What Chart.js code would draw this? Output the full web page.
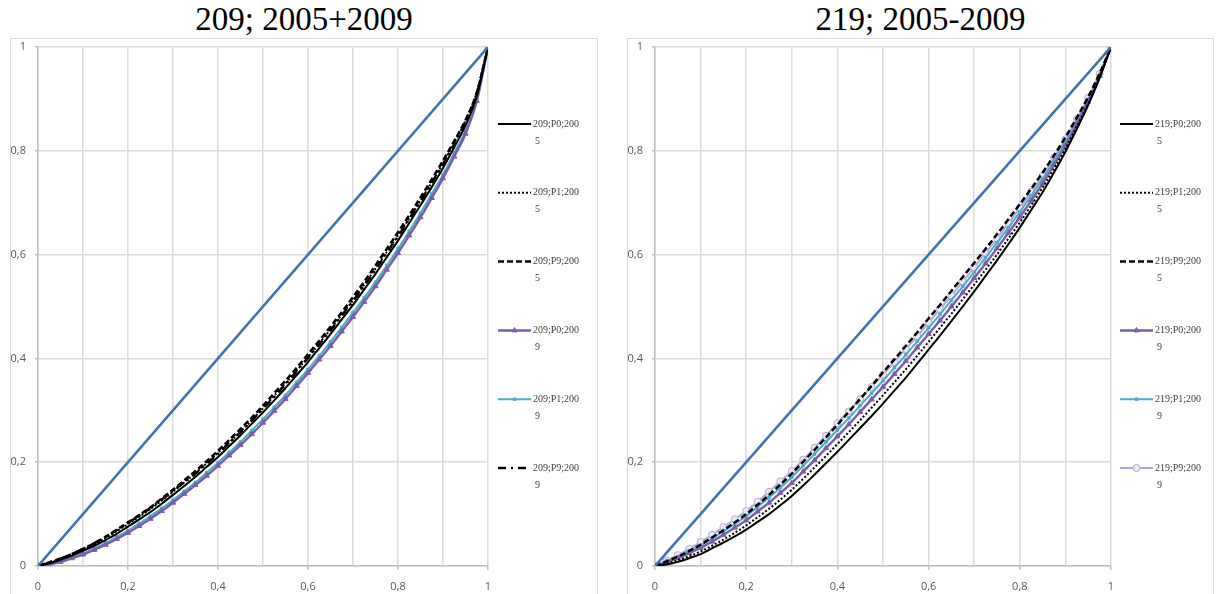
<!DOCTYPE html>
<html>
<head>
<meta charset="utf-8">
<script src="https://cdn.jsdelivr.net/npm/chart.js@4/dist/chart.umd.min.js"></script>
<style>
  body { margin: 0; background: #fff; width: 1216px; height: 594px; overflow: hidden; position: relative; }
  .title { position: absolute; top: 0; height: 38px; line-height: 38px; text-align: center;
           font-family: 'Liberation Serif', serif; font-size: 33px; color: #000; }
  .panel { position: absolute; top: 38px; height: 556px; border: 1px solid #d9d9d9; }
</style>
</head>
<body>
<div class="title" style="left:10px;width:588px;">209; 2005+2009</div>
<div class="title" style="left:627px;width:587px;">219; 2005-2009</div>
<div class="panel" style="left:10px;width:586px;"><canvas id="chart209"></canvas></div>
<div class="panel" style="left:627px;width:585px;"><canvas id="chart219"></canvas></div>
<script>
// cumulative population share (x)
const shares = [0, 0.025, 0.05, 0.075, 0.1, 0.125, 0.15, 0.175, 0.2, 0.225, 0.25, 0.275, 0.3, 0.325, 0.35, 0.375,
    0.4, 0.425, 0.45, 0.475, 0.5, 0.525, 0.55, 0.575, 0.6, 0.625, 0.65, 0.675, 0.7, 0.725, 0.75, 0.775,
    0.8, 0.825, 0.85, 0.875, 0.9, 0.925, 0.95, 0.975, 1];
const equalityX = [0, 1];
const equalityY = [0, 1];

// 209 curves (cumulative share)
const c209_P0_2005 = [0, .005, .012, .02, .029, .039, .05, .062, .076, .09, .104, .12, .137, .154, .172, .191, .21, .231, .252, .274, .296, .319, .343, .368, .393, .42, .447, .475, .503, .533, .563, .595, .627, .661, .695, .73, .767, .807, .849, .905, 1];
const c209_P1_2005 = [0, .006, .013, .022, .031, .042, .054, .067, .081, .095, .11, .126, .143, .161, .179, .198, .218, .238, .259, .281, .304, .328, .352, .377, .402, .429, .456, .484, .512, .542, .573, .605, .637, .67, .704, .739, .776, .816, .858, .913, 1];
const c209_P9_2005 = [0, .007, .014, .023, .033, .044, .056, .07, .084, .098, .113, .13, .147, .165, .183, .202, .222, .243, .264, .286, .309, .333, .357, .382, .408, .434, .461, .489, .518, .548, .579, .611, .643, .676, .71, .745, .781, .819, .859, .912, 1];
const c209_P0_2009 = [0, .003, .008, .015, .022, .031, .041, .052, .064, .077, .091, .106, .122, .139, .156, .174, .193, .213, .233, .254, .276, .299, .322, .347, .372, .398, .424, .452, .48, .509, .539, .571, .603, .637, .672, .709, .747, .789, .833, .896, 1];
const c209_P1_2009 = [0, .004, .01, .017, .024, .034, .044, .056, .068, .082, .096, .111, .127, .144, .161, .18, .199, .219, .239, .261, .283, .306, .329, .354, .379, .405, .432, .46, .488, .517, .547, .579, .611, .645, .68, .717, .754, .796, .839, .899, 1];
const c209_P9_2009 = [0, .007, .014, .023, .033, .044, .056, .069, .083, .097, .112, .128, .145, .161, .178, .197, .216, .237, .258, .28, .303, .326, .35, .375, .401, .427, .454, .482, .51, .54, .571, .603, .635, .668, .702, .738, .774, .813, .854, .909, 1];

// 219 curves (cumulative share)
const c219_P0_2005 = [0, .003, .008, .015, .023, .034, .045, .057, .07, .085, .1, .117, .135, .155, .176, .198, .22, .243, .266, .289, .313, .338, .363, .39, .417, .444, .472, .5, .529, .559, .589, .62, .652, .686, .72, .758, .798, .842, .888, .94, 1];
const c219_P1_2005 = [0, .005, .011, .019, .028, .039, .051, .064, .078, .094, .11, .128, .147, .168, .19, .212, .235, .258, .281, .305, .329, .354, .379, .405, .432, .459, .486, .514, .542, .571, .6, .631, .662, .695, .729, .766, .804, .847, .891, .942, 1];
const c219_P9_2005 = [0, .009, .018, .029, .041, .055, .069, .084, .1, .118, .137, .157, .178, .201, .224, .248, .272, .297, .322, .347, .373, .398, .424, .45, .477, .503, .53, .557, .584, .611, .639, .668, .697, .727, .758, .791, .826, .864, .904, .949, 1];
const c219_P0_2009 = [0, .007, .015, .025, .035, .047, .06, .074, .088, .105, .122, .141, .16, .182, .204, .227, .25, .273, .297, .321, .345, .37, .395, .421, .447, .473, .5, .527, .555, .583, .612, .642, .672, .704, .737, .773, .81, .851, .895, .944, 1];
const c219_P1_2009 = [0, .009, .018, .029, .04, .053, .067, .081, .096, .114, .132, .151, .171, .193, .216, .239, .262, .285, .309, .333, .357, .382, .407, .433, .459, .485, .512, .539, .566, .594, .623, .652, .682, .714, .746, .781, .817, .857, .899, .946, 1];
const c219_P9_2009 = [0, .01, .021, .033, .046, .06, .075, .09, .106, .124, .143, .163, .183, .205, .228, .251, .275, .298, .322, .345, .369, .393, .418, .443, .469, .495, .521, .548, .575, .603, .631, .66, .69, .721, .752, .787, .822, .861, .902, .948, 1];

const xGrid = [0, 0.1, 0.2, 0.3, 0.4, 0.5, 0.6, 0.7, 0.8, 0.9, 1];
const xTicks = [0, 0.2, 0.4, 0.6, 0.8, 1];

// series styles, in legend order
const styles = [
    { suffix: 'P0;200', year: '5', color: '#000000', width: 2, dash: [] },
    { suffix: 'P1;200', year: '5', color: '#000000', width: 2, dash: [2, 2] },
    { suffix: 'P9;200', year: '5', color: '#000000', width: 2.5, dash: [6, 3] },
    { suffix: 'P0;200', year: '9', color: '#7b5ea8', width: 2.5, dash: [], point: 'triangle', radius: 3, fill: '#7b5ea8' },
    { suffix: 'P1;200', year: '9', color: '#4bacc6', width: 2, dash: [], point: 'rect', radius: 1.8, fill: '#4bacc6' },
];
const lastStyle209 = { suffix: 'P9;200', year: '9', color: '#000000', width: 2.5, dash: [8, 5, 2, 5] };
const lastStyle219 = { suffix: 'P9;200', year: '9', color: '#b4a7d6', width: 2, dash: [], point: 'circle', radius: 3.5, fill: '#ebe7f6' };

const toPoints = (xs, ys) => xs.map((x, i) => ({ x: x, y: ys[i] }));
const fmt = v => String(Math.round(v * 10) / 10).replace('.', ',');
const isLabelled = v => xTicks.some(t => Math.abs(t - v) < 1e-6);

const sideLegend = {
    id: 'sideLegend',
    afterDraw(chart, args, opts) {
        const ctx = chart.ctx;
        opts.items.forEach((it, i) => {
            const y = opts.top + i * opts.gap;
            ctx.save();
            ctx.strokeStyle = it.color;
            ctx.lineWidth = it.width;
            ctx.setLineDash(it.dash);
            ctx.beginPath();
            ctx.moveTo(opts.x, y);
            ctx.lineTo(opts.x + opts.len, y);
            ctx.stroke();
            ctx.setLineDash([]);
            if (it.point) {
                ctx.fillStyle = it.fill;
                ctx.strokeStyle = it.color;
                ctx.lineWidth = 1;
                Chart.helpers.drawPoint(ctx, { pointStyle: it.point, radius: it.radius, rotation: 0, borderWidth: 1 },
                    opts.x + opts.len / 2, y);
            }
            ctx.fillStyle = '#404040';
            ctx.font = '10px "Liberation Serif"';
            ctx.textBaseline = 'middle';
            ctx.textAlign = 'left';
            ctx.fillText(opts.prefix + ';' + it.suffix, opts.textX, y);
            ctx.fillText(it.year, opts.textX + 2, y + 17);
            ctx.restore();
        });
    }
};

function makeChart(id, prefix, curves, lastStyle, rightPad, legendX, textX) {
    const items = styles.concat([lastStyle]);
    const datasets = [{
        data: toPoints(equalityX, equalityY),
        borderColor: '#4170b0',
        borderWidth: 2.5,
        pointRadius: 0,
        showLine: true
    }];
    items.forEach((st, i) => {
        datasets.push({
            data: toPoints(shares, curves[i]),
            borderColor: st.color,
            borderWidth: st.width,
            borderDash: st.dash,
            pointRadius: st.point ? st.radius : 0,
            pointStyle: st.point || 'circle',
            pointBackgroundColor: st.fill || st.color,
            pointBorderColor: st.color,
            pointBorderWidth: 1,
            showLine: true,
            cubicInterpolationMode: 'monotone'
        });
    });

    new Chart(document.getElementById(id), {
        type: 'scatter',
        data: { datasets: datasets },
        options: {
            responsive: true,
            maintainAspectRatio: false,
            animation: false,
            layout: { padding: { top: 8, right: rightPad, left: 0, bottom: 0 } },
            plugins: {
                legend: { display: false },
                tooltip: { enabled: false },
                sideLegend: { items: items, prefix: prefix, x: legendX, len: 33, textX: textX, top: 85, gap: 68.8 }
            },
            scales: {
                x: {
                    type: 'linear', min: 0, max: 1,
                    afterFit: s => { s.height = 29; s.paddingLeft = 0; s.paddingRight = 0; },
                    afterBuildTicks: s => { s.ticks = xGrid.map(v => ({ value: v })); },
                    ticks: {
                        color: '#595959', font: { family: 'Open Sans', size: 11 }, padding: 10,
                        maxRotation: 0, autoSkip: false,
                        callback: v => isLabelled(v) ? fmt(v) : ''
                    },
                    grid: {
                        color: '#dcdcdc', lineWidth: 1.5, tickLength: 4,
                        tickColor: c => isLabelled(c.tick.value) ? '#bfbfbf' : 'rgba(0,0,0,0)'
                    },
                    border: { color: '#bfbfbf', width: 1.5 }
                },
                y: {
                    min: 0, max: 1,
                    afterFit: s => { s.width = 27; s.paddingTop = 0; s.paddingBottom = 0; },
                    ticks: {
                        stepSize: 0.2, color: '#595959', font: { family: 'Open Sans', size: 11 }, padding: 9,
                        callback: v => fmt(v)
                    },
                    grid: { color: '#dcdcdc', lineWidth: 1.5, tickLength: 3, tickColor: '#bfbfbf' },
                    border: { color: '#bfbfbf', width: 1.5 }
                }
            }
        },
        plugins: [sideLegend]
    });
}

makeChart('chart209', '209',
    [c209_P0_2005, c209_P1_2005, c209_P9_2005, c209_P0_2009, c209_P1_2009, c209_P9_2009],
    lastStyle209, 109, 487, 522);
makeChart('chart219', '219',
    [c219_P0_2005, c219_P1_2005, c219_P9_2005, c219_P0_2009, c219_P1_2009, c219_P9_2009],
    lastStyle219, 102, 492, 527);
</script>
</body>
</html>
